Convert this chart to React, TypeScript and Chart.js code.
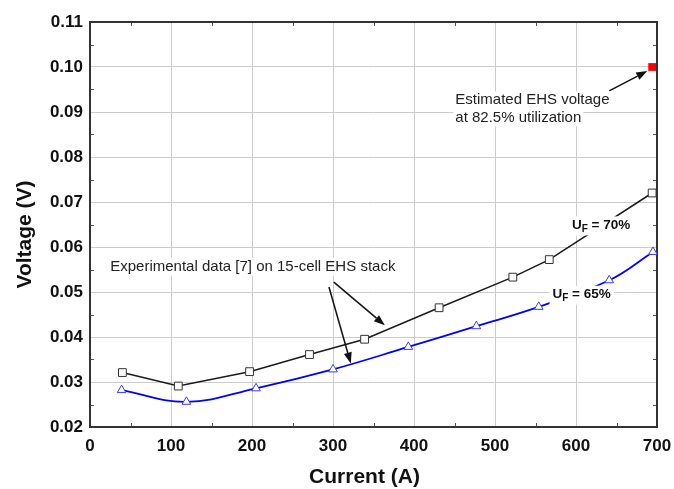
import React, { useEffect, useRef } from "react";
import { Chart, registerables } from "chart.js";

Chart.register(...registerables);

// ---- Data ----
const currentUF70 = [40, 109, 197, 271, 339, 431, 522, 567, 694];
const voltageUF70 = [0.0321, 0.0291, 0.0323, 0.0361, 0.0395, 0.0465, 0.0533, 0.0572, 0.072];
const currentUF65 = [39, 119, 205, 300, 393, 477, 554, 641, 695];
const voltageUF65 = [0.0282, 0.0256, 0.0286, 0.0328, 0.0378, 0.0424, 0.0467, 0.0526, 0.0589];
const estCurrent = [694];
const estVoltage = [0.1];

const xTicks = [0, 100, 200, 300, 400, 500, 600, 700];
const yTicks = [0.02, 0.03, 0.04, 0.05, 0.06, 0.07, 0.08, 0.09, 0.1, 0.11];
const xMinor = [50, 150, 250, 350, 450, 550, 650];
const yMinor = [0.025, 0.035, 0.045, 0.055, 0.065, 0.075, 0.085, 0.095, 0.105];

const xTitle = "Current (A)";
const yTitle = "Voltage (V)";
const noteExperimental = "Experimental data [7] on 15-cell EHS stack";
const noteEstimated = ["Estimated EHS voltage", "at 82.5% utilization"];

const FONT = "'Liberation Sans', Arial, Helvetica, sans-serif";

function drawArrow(ctx: CanvasRenderingContext2D, x1: number, y1: number, x2: number, y2: number) {
  const ang = Math.atan2(y2 - y1, x2 - x1);
  const hl = 11;
  const hw = 4;
  const bx = x2 - hl * Math.cos(ang);
  const by = y2 - hl * Math.sin(ang);
  ctx.save();
  ctx.strokeStyle = "#111";
  ctx.fillStyle = "#111";
  ctx.lineWidth = 1.5;
  ctx.beginPath();
  ctx.moveTo(x1, y1);
  ctx.lineTo(bx, by);
  ctx.stroke();
  ctx.beginPath();
  ctx.moveTo(x2, y2);
  ctx.lineTo(bx + hw * Math.sin(ang), by - hw * Math.cos(ang));
  ctx.lineTo(bx - hw * Math.sin(ang), by + hw * Math.cos(ang));
  ctx.closePath();
  ctx.fill();
  ctx.restore();
}

function textBox(ctx: CanvasRenderingContext2D, text: string, x: number, y: number, font: string) {
  ctx.save();
  ctx.font = font;
  ctx.textBaseline = "middle";
  ctx.textAlign = "left";
  const w = ctx.measureText(text).width;
  ctx.fillStyle = "#fff";
  ctx.fillRect(x - 2, y - 9, w + 4, 18);
  ctx.fillStyle = "#222";
  ctx.fillText(text, x, y);
  ctx.restore();
}

function ufLabel(ctx: CanvasRenderingContext2D, pct: string, x: number, y: number) {
  ctx.save();
  ctx.textBaseline = "middle";
  ctx.textAlign = "left";
  const big = `bold 13.5px ${FONT}`;
  const small = `bold 10px ${FONT}`;
  ctx.font = big;
  const wU = ctx.measureText("U").width;
  const rest = ` = ${pct}`;
  const wR = ctx.measureText(rest).width;
  ctx.font = small;
  const wF = ctx.measureText("F").width;
  const total = wU + wF + wR;
  ctx.fillStyle = "#fff";
  ctx.fillRect(x - 3, y - 9, total + 6, 19);
  ctx.fillStyle = "#111";
  ctx.font = big;
  ctx.fillText("U", x, y);
  ctx.font = small;
  ctx.fillText("F", x + wU, y + 4);
  ctx.font = big;
  ctx.fillText(rest, x + wU + wF, y);
  ctx.restore();
}

const framePlugin = {
  id: "frame",
  beforeDatasetsDraw(chart: any) {
    const { ctx, chartArea: a, scales } = chart;
    const xs = scales.x;
    const ys = scales.y;
    ctx.save();
    ctx.strokeStyle = "#555";
    ctx.lineWidth = 1;
    const t = 4;
    ctx.beginPath();
    xMinor.forEach((v) => {
      const px = Math.round(xs.getPixelForValue(v)) + 0.5;
      ctx.moveTo(px, a.bottom);
      ctx.lineTo(px, a.bottom - t);
      ctx.moveTo(px, a.top);
      ctx.lineTo(px, a.top + t);
    });
    yMinor.forEach((v) => {
      const py = Math.round(ys.getPixelForValue(v)) + 0.5;
      ctx.moveTo(a.left, py);
      ctx.lineTo(a.left + t, py);
      ctx.moveTo(a.right, py);
      ctx.lineTo(a.right - t, py);
    });
    ctx.stroke();
    ctx.strokeStyle = "#333";
    ctx.lineWidth = 2;
    ctx.strokeRect(a.left, a.top, a.right - a.left, a.bottom - a.top);
    ctx.restore();
  },
  afterDatasetsDraw(chart: any) {
    const { ctx, scales } = chart;
    const X = (v: number) => scales.x.getPixelForValue(v);
    const Y = (v: number) => scales.y.getPixelForValue(v);

    // experimental note and arrows
    drawArrow(ctx, X(301), Y(0.0522), X(364), Y(0.0426));
    drawArrow(ctx, X(295), Y(0.0511), X(322), Y(0.0341));
    textBox(ctx, noteExperimental, X(25), Y(0.0556), `15px ${FONT}`);

    // estimated note
    drawArrow(ctx, X(641), Y(0.0947), X(688), Y(0.0991));
    textBox(ctx, noteEstimated[0], X(451), Y(0.0926), `15px ${FONT}`);
    textBox(ctx, noteEstimated[1], X(451), Y(0.0888), `15px ${FONT}`);

    ufLabel(ctx, "70%", X(595), Y(0.0648));
    ufLabel(ctx, "65%", X(571), Y(0.0494));
  },
  afterDraw(chart: any) {
    const { ctx, chartArea: a } = chart;
    ctx.save();
    ctx.fillStyle = "#111";
    ctx.font = `bold 21px ${FONT}`;
    ctx.textAlign = "center";
    ctx.textBaseline = "middle";
    ctx.fillText(xTitle, (a.left + a.right) / 2 - 9, 477);
    ctx.translate(25, (a.top + a.bottom) / 2 + 10);
    ctx.rotate(-Math.PI / 2);
    ctx.fillText(yTitle, 0, 0);
    ctx.restore();
  },
};

export default function App() {
  const ref = useRef<HTMLCanvasElement | null>(null);

  useEffect(() => {
    if (!ref.current) return;
    const chart = new Chart(ref.current, {
      type: "line",
      data: {
        datasets: [
          {
            label: "UF = 70%",
            data: currentUF70.map((x, i) => ({ x, y: voltageUF70[i] })),
            borderColor: "#1a1a1a",
            borderWidth: 1.5,
            pointStyle: "rect",
            pointRadius: 5.5,
            pointBorderWidth: 1,
            pointBorderColor: "#333",
            pointBackgroundColor: "#fff",
            tension: 0,
          },
          {
            label: "UF = 65%",
            data: currentUF65.map((x, i) => ({ x, y: voltageUF65[i] })),
            borderColor: "#0000ff",
            borderWidth: 1.8,
            pointStyle: "triangle",
            pointRadius: 5,
            pointBorderWidth: 1,
            pointBorderColor: "#3a3aff",
            pointBackgroundColor: "#fff",
            tension: 0.4,
          },
          {
            label: "Estimated",
            data: estCurrent.map((x, i) => ({ x, y: estVoltage[i] })),
            showLine: false,
            pointStyle: "rect",
            pointRadius: 5.5,
            pointBorderWidth: 0,
            pointBackgroundColor: "#ff0000",
            pointBorderColor: "#ff0000",
          },
        ],
      },
      options: {
        animation: false,
        responsive: true,
        maintainAspectRatio: false,
        layout: { padding: { top: 22, right: 17, left: 0, bottom: 0 } },
        plugins: { legend: { display: false }, tooltip: { enabled: false } },
        scales: {
          x: {
            type: "linear",
            min: 0,
            max: 700,
            afterBuildTicks: (s: any) => {
              s.ticks = xTicks.map((v) => ({ value: v }));
            },
            afterFit: (s: any) => {
              s.height = 62;
              s.paddingLeft = 0;
              s.paddingRight = 0;
            },
            grid: { color: "#cccccc", lineWidth: 1, drawTicks: false },
            border: { display: false },
            ticks: {
              padding: 9,
              color: "#111",
              font: { family: FONT, size: 17, weight: "bold" },
              maxRotation: 0,
              autoSkip: false,
            },
          },
          y: {
            type: "linear",
            min: 0.02,
            max: 0.11,
            afterBuildTicks: (s: any) => {
              s.ticks = yTicks.map((v) => ({ value: v }));
            },
            afterFit: (s: any) => {
              s.width = 90;
              s.paddingTop = 0;
              s.paddingBottom = 0;
            },
            grid: { color: "#cccccc", lineWidth: 1, drawTicks: false },
            border: { display: false },
            ticks: {
              padding: 7,
              color: "#111",
              font: { family: FONT, size: 17, weight: "bold" },
              autoSkip: false,
              callback: (v: any) => Number(v).toFixed(2),
            },
          },
        },
      },
      plugins: [framePlugin],
    } as any);
    return () => chart.destroy();
  }, []);

  return (
    <div style={{ position: "absolute", left: 0, top: 0, width: 674, height: 489, background: "#fff" }}>
      <canvas ref={ref} />
    </div>
  );
}
